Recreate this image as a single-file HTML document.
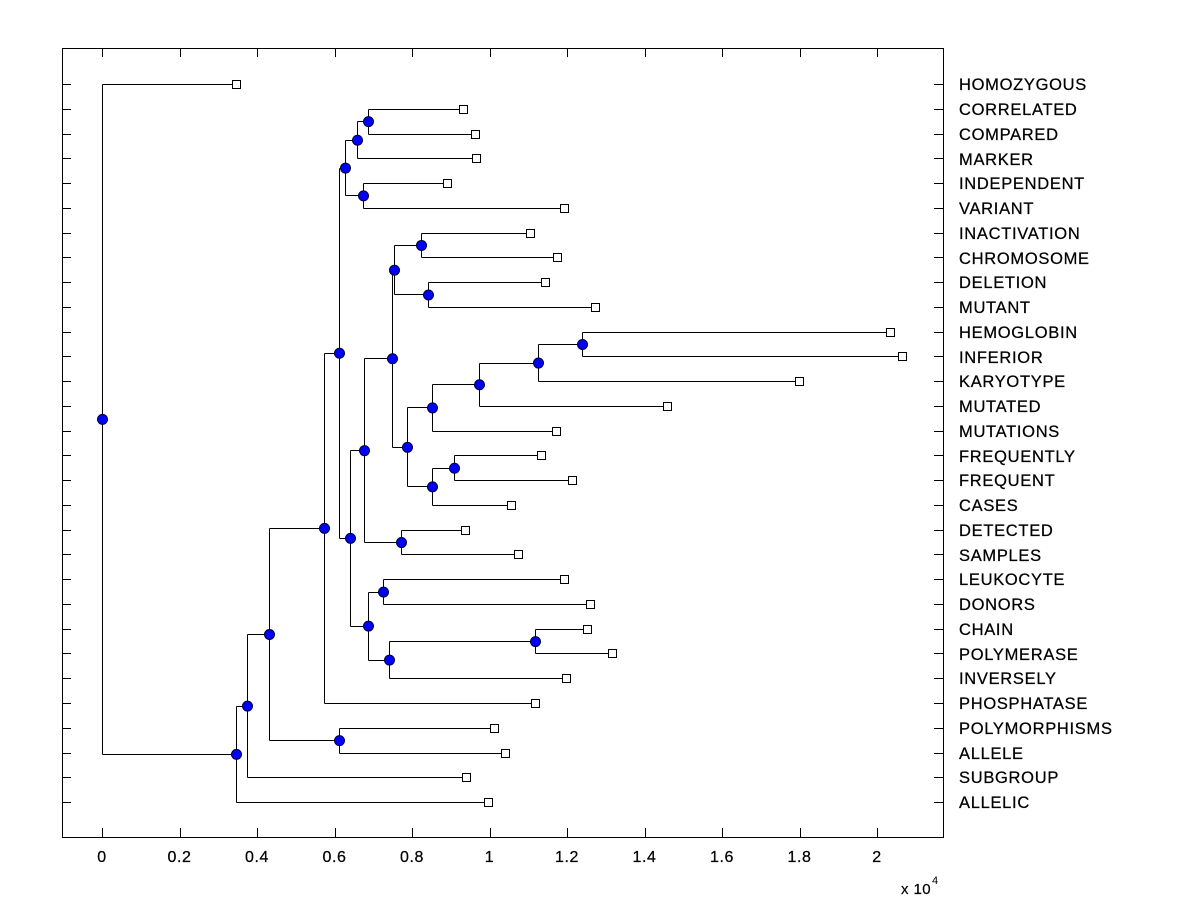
<!DOCTYPE html>
<html><head><meta charset="utf-8"><style>
html,body{margin:0;padding:0;background:#fff;}
svg{display:block;font-family:"Liberation Sans",Arial,sans-serif;}
</style></head><body>
<svg id="s" width="1200" height="900" xmlns="http://www.w3.org/2000/svg">
<rect x="0" y="0" width="1200" height="900" fill="#fff"/>
<rect x="62.5" y="48.5" width="881" height="789" fill="none" stroke="#000" stroke-width="1"/>
<g id="ticks" stroke="#000" stroke-width="1"></g>
<g id="tree" stroke="#000" stroke-width="1" fill="none"></g>
<g id="marks"></g>
<g font-size="16.5" letter-spacing="0.7" fill="#000" stroke="#000" stroke-width="0.25">
<text x="959" y="90">HOMOZYGOUS</text>
<text x="959" y="115">CORRELATED</text>
<text x="959" y="140">COMPARED</text>
<text x="959" y="165">MARKER</text>
<text x="959" y="189">INDEPENDENT</text>
<text x="959" y="214">VARIANT</text>
<text x="959" y="239">INACTIVATION</text>
<text x="959" y="264">CHROMOSOME</text>
<text x="959" y="288">DELETION</text>
<text x="959" y="313">MUTANT</text>
<text x="959" y="338">HEMOGLOBIN</text>
<text x="959" y="363">INFERIOR</text>
<text x="959" y="387">KARYOTYPE</text>
<text x="959" y="412">MUTATED</text>
<text x="959" y="437">MUTATIONS</text>
<text x="959" y="462">FREQUENTLY</text>
<text x="959" y="486">FREQUENT</text>
<text x="959" y="511">CASES</text>
<text x="959" y="536">DETECTED</text>
<text x="959" y="561">SAMPLES</text>
<text x="959" y="585">LEUKOCYTE</text>
<text x="959" y="610">DONORS</text>
<text x="959" y="635">CHAIN</text>
<text x="959" y="660">POLYMERASE</text>
<text x="959" y="684">INVERSELY</text>
<text x="959" y="709">PHOSPHATASE</text>
<text x="959" y="734">POLYMORPHISMS</text>
<text x="959" y="759">ALLELE</text>
<text x="959" y="783">SUBGROUP</text>
<text x="959" y="808">ALLELIC</text>
</g>
<g font-size="16" letter-spacing="0.6" fill="#000" stroke="#000" stroke-width="0.25" text-anchor="middle">
<text x="102" y="862">0</text>
<text x="179.5" y="862">0.2</text>
<text x="257" y="862">0.4</text>
<text x="334.5" y="862">0.6</text>
<text x="412" y="862">0.8</text>
<text x="489.5" y="862">1</text>
<text x="567" y="862">1.2</text>
<text x="644.5" y="862">1.4</text>
<text x="722" y="862">1.6</text>
<text x="799.5" y="862">1.8</text>
<text x="877" y="862">2</text>
</g>
<text x="901" y="894" font-size="15" letter-spacing="0.4" stroke="#000" stroke-width="0.2">x 10</text>
<text x="932" y="884" font-size="11">4</text>
</svg>
<script>
var NS="http://www.w3.org/2000/svg";
function el(p,t,a){var e=document.createElementNS(NS,t);for(var k in a)e.setAttribute(k,a[k]);p.appendChild(e);return e;}
var ticks=document.getElementById('ticks'),tree=document.getElementById('tree'),marks=document.getElementById('marks');
function ry(i){return 84+i*24.76;}
for(var i=0;i<30;i++){var y=Math.round(ry(i))+0.5;
 el(ticks,'line',{x1:62,y1:y,x2:71,y2:y});el(ticks,'line',{x1:943,y1:y,x2:934,y2:y});}
for(var v=0;v<=10;v++){var x=Math.round(102+v*77.5)+0.5;
 el(ticks,'line',{x1:x,y1:837,x2:x,y2:828});el(ticks,'line',{x1:x,y1:48,x2:x,y2:57});}
var leafX=[236,463,475,476,447,564,530,557,545,595,890,902,799,667,556,541,572,511,465,518,564,590,587,612,566,535,494,505,466,488];
var N={};
for(var i=0;i<30;i++)N['l'+i]={x:leafX[i],y:ry(i),leaf:true};
var defs=[['A',368,'l1','l2'],['B',357,'A','l3'],['C',363,'l4','l5'],['D',345,'B','C'],
['E',421,'l6','l7'],['F',428,'l8','l9'],['G',394,'E','F'],['H',582,'l10','l11'],['I',538,'H','l12'],
['J',479,'I','l13'],['K',432,'J','l14'],['L',454,'l15','l16'],['M',432,'L','l17'],['N',407,'K','M'],
['O',392,'G','N'],['P',401,'l18','l19'],['Q',364,'O','P'],['R',383,'l20','l21'],['S',535,'l22','l23'],
['T',389,'S','l24'],['U',368,'R','T'],['V',350,'Q','U'],['W',339,'D','V'],['X',324,'W','l25'],
['Y',339,'l26','l27'],['Z',269,'X','Y'],['AA',247,'Z','l28'],['AB',236,'AA','l29'],['R0',102,'l0','AB']];
var dots=[];
defs.forEach(function(d){var a=N[d[2]],b=N[d[3]],x=d[1]+0.5;
 var n={x:d[1],y:(a.y+b.y)/2};N[d[0]]=n;
 el(tree,'line',{x1:x,y1:Math.round(a.y)+0.5,x2:x,y2:Math.round(b.y)+0.5});
 [a,b].forEach(function(c){var y=Math.round(c.y)+0.5;el(tree,'line',{x1:x,y1:y,x2:c.x,y2:y});});
 dots.push(n);});
for(var i=0;i<30;i++){var l=N['l'+i];el(marks,'rect',{x:l.x-4+0.5,y:Math.round(l.y)-4+0.5,width:8,height:8,fill:'#fff',stroke:'#000','stroke-width':1});}
dots.forEach(function(n){el(marks,'circle',{cx:n.x+0.5,cy:n.y+0.5,r:5,fill:'#0000ff',stroke:'#000033','stroke-width':1});});
</script>
</body></html>
